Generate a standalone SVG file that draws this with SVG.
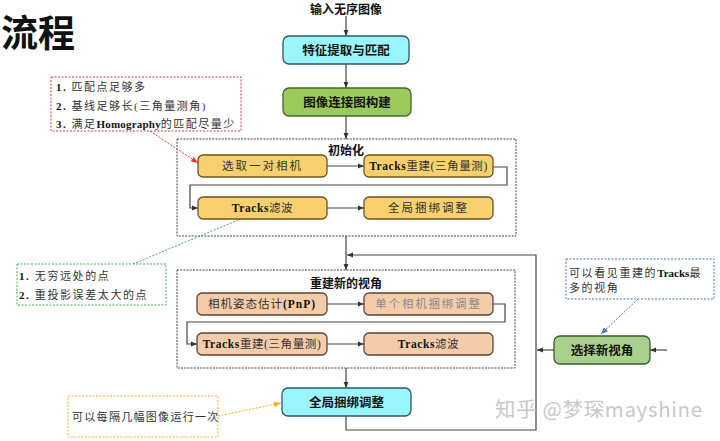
<svg xmlns="http://www.w3.org/2000/svg" width="720" height="441" viewBox="0 0 720 441">
<defs>
<style>
.hei{font-family:"Noto Sans CJK SC","Liberation Sans",sans-serif;font-weight:bold;fill:#111;}
.song{font-family:"Liberation Serif","Noto Sans CJK SC",serif;fill:#333;}
.b{font-weight:bold;fill:#111;}
.cn{fill:none;stroke:#444;stroke-width:1.2;}
.cont{fill:none;stroke:#444;stroke-width:1;stroke-dasharray:2 1.2;}
.cyan{fill:#9BF5FD;stroke:#2C5866;stroke-width:1.3;}
.green{fill:#9CC95C;stroke:#46652A;stroke-width:1.3;}
.gold{fill:#F8D16E;stroke:#6E5220;stroke-width:1.3;}
.peach{fill:#F5CCAA;stroke:#5E4434;stroke-width:1.3;}
.sel{fill:#A9D08E;stroke:#3C5A2C;stroke-width:1.3;}
</style>
<marker id="ar" viewBox="0 0 10 10" refX="10" refY="5" markerWidth="6" markerHeight="6" orient="auto" markerUnits="userSpaceOnUse"><path d="M0,1 L10,5 L0,9 z" fill="#333"/></marker>
<marker id="arR" viewBox="0 0 10 10" refX="10" refY="5" markerWidth="7" markerHeight="7" orient="auto" markerUnits="userSpaceOnUse"><path d="M0,1 L10,5 L0,9 z" fill="#E03A3A"/></marker>
<marker id="arG" viewBox="0 0 10 10" refX="10" refY="5" markerWidth="7" markerHeight="7" orient="auto" markerUnits="userSpaceOnUse"><path d="M0,1 L10,5 L0,9 z" fill="#3DAF5A"/></marker>
<marker id="arB" viewBox="0 0 10 10" refX="10" refY="5" markerWidth="7" markerHeight="7" orient="auto" markerUnits="userSpaceOnUse"><path d="M0,1 L10,5 L0,9 z" fill="#3A78C0"/></marker>
<marker id="arY" viewBox="0 0 10 10" refX="10" refY="5" markerWidth="7" markerHeight="7" orient="auto" markerUnits="userSpaceOnUse"><path d="M0,1 L10,5 L0,9 z" fill="#F0B020"/></marker>
</defs>
<rect width="720" height="441" fill="#fff"/>

<text x="1" y="47" font-family="Noto Sans CJK SC, sans-serif" font-weight="bold" font-size="37" fill="#111">流程</text>
<text x="346" y="14" class="hei" font-size="12" text-anchor="middle" font-weight="normal">输入无序图像</text>

<g id="containers">
<rect id="init" x="177" y="139" width="339" height="97" class="cont"/>
<text x="346" y="155" class="hei" font-size="12" text-anchor="middle">初始化</text>
<rect id="rebuild" x="177" y="270" width="338" height="98" class="cont"/>
<text x="346" y="288" class="hei" font-size="12" text-anchor="middle">重建新的视角</text>
</g>

<g id="connectors">
<line x1="346" y1="16" x2="346" y2="36" class="cn" marker-end="url(#ar)"/>
<line x1="346" y1="64" x2="346" y2="88" class="cn" marker-end="url(#ar)"/>
<line x1="346" y1="116" x2="346" y2="139" class="cn" marker-end="url(#ar)"/>
<line x1="327" y1="166" x2="364" y2="166" class="cn" marker-end="url(#ar)"/>
<polyline points="493,167 507,167 507,185 190,185 190,208 198,208" class="cn" marker-end="url(#ar)"/>
<line x1="327" y1="208" x2="364" y2="208" class="cn" marker-end="url(#ar)"/>
<line x1="346" y1="236" x2="346" y2="270" class="cn" marker-end="url(#ar)"/>
<polyline points="346,416 346,430 536,430 536,255 347,255" class="cn" marker-end="url(#ar)"/>
<line x1="327" y1="304" x2="364" y2="304" class="cn" marker-end="url(#ar)"/>
<polyline points="493,304 505,304 505,322 187,322 187,344 197,344" class="cn" marker-end="url(#ar)"/>
<line x1="327" y1="344" x2="364" y2="344" class="cn" marker-end="url(#ar)"/>
<line x1="346" y1="368" x2="346" y2="388" class="cn" marker-end="url(#ar)"/>
<line x1="554" y1="350" x2="537" y2="350" class="cn" marker-end="url(#ar)"/>
<line x1="667" y1="350" x2="650" y2="350" class="cn" marker-end="url(#ar)"/>
<line x1="150" y1="131" x2="198" y2="163" stroke="#E03A3A" stroke-width="1" stroke-dasharray="2 1.5" marker-end="url(#arR)"/>
<line x1="133" y1="264" x2="262" y2="210" stroke="#3DAF5A" stroke-width="1" stroke-dasharray="2 1.5" marker-end="url(#arG)"/>
<line x1="638" y1="299" x2="601" y2="334" stroke="#3A78C0" stroke-width="1" stroke-dasharray="2 1.5" marker-end="url(#arB)"/>
<line x1="218" y1="416" x2="281" y2="403" stroke="#F0B020" stroke-width="1" stroke-dasharray="2 1.5" marker-end="url(#arY)"/>
</g>

<g id="n-feature"><rect x="283" y="36" width="126" height="28" rx="6" class="cyan"/><text x="346" y="55" class="hei" font-size="12.5" text-anchor="middle">特征提取与匹配</text></g>
<g id="n-graph"><rect x="283" y="88" width="128" height="28" rx="6" class="green"/><text x="347" y="107" class="hei" font-size="12.5" text-anchor="middle">图像连接图构建</text></g>

<g id="n-pair"><rect x="198" y="155" width="129" height="22" rx="5" class="gold"/><text x="262.5" y="170" class="song" font-size="11.5" letter-spacing="2" text-anchor="middle">选取一对相机</text></g>
<g id="n-tri1"><rect x="364" y="155" width="129" height="22" rx="5" class="gold"/><text x="428.5" y="170" class="song" font-size="11.5" letter-spacing="0.6" text-anchor="middle"><tspan class="b">Tracks</tspan>重建(三角量测)</text></g>
<g id="n-filter1"><rect x="198" y="197" width="129" height="22" rx="5" class="gold"/><text x="262.5" y="212" class="song" font-size="11.5" letter-spacing="0.6" text-anchor="middle"><tspan class="b">Tracks</tspan>滤波</text></g>
<g id="n-ba1"><rect x="364" y="197" width="129" height="22" rx="5" class="gold"/><text x="428.5" y="212" class="song" font-size="11.5" letter-spacing="2" text-anchor="middle">全局捆绑调整</text></g>

<g id="n-pnp"><rect x="197" y="293" width="130" height="22" rx="5" class="peach"/><text x="262" y="308" class="song" font-size="11.5" letter-spacing="1" text-anchor="middle">相机姿态估计<tspan class="b">(PnP)</tspan></text></g>
<g id="n-single"><rect x="364" y="293" width="129" height="22" rx="5" class="peach"/><text x="428.5" y="308" class="song" font-size="11.5" letter-spacing="1.8" text-anchor="middle" style="fill:#8a8a8a">单个相机捆绑调整</text></g>
<g id="n-tri2"><rect x="197" y="333" width="130" height="22" rx="5" class="peach"/><text x="262" y="348" class="song" font-size="11.5" letter-spacing="0.6" text-anchor="middle"><tspan class="b">Tracks</tspan>重建(三角量测)</text></g>
<g id="n-filter2"><rect x="364" y="333" width="129" height="22" rx="5" class="peach"/><text x="428.5" y="348" class="song" font-size="11.5" letter-spacing="0.6" text-anchor="middle"><tspan class="b">Tracks</tspan>滤波</text></g>

<g id="n-ba2"><rect x="282" y="388" width="129" height="28" rx="6" class="cyan"/><text x="346.5" y="407" class="hei" font-size="12.5" text-anchor="middle">全局捆绑调整</text></g>
<g id="n-select"><rect x="554" y="336" width="96" height="28" rx="6" class="sel"/><text x="602" y="355" class="hei" font-size="12.5" text-anchor="middle">选择新视角</text></g>

<g id="c-red">
<rect x="51" y="77" width="190" height="54" fill="none" stroke="#E03A3A" stroke-width="1" stroke-dasharray="2 1.5"/>
<text class="song" font-size="11" letter-spacing="1.5"><tspan x="56" y="91"><tspan class="b">1.</tspan> 匹配点足够多</tspan><tspan x="56" y="110"><tspan class="b">2.</tspan> 基线足够长(三角量测角)</tspan><tspan x="56" y="128"><tspan class="b">3.</tspan> 满足<tspan class="b" letter-spacing="0.2">Homography</tspan>的匹配尽量少</tspan></text>
</g>
<g id="c-green">
<rect x="17" y="264" width="149" height="41" fill="none" stroke="#3DAF5A" stroke-width="1" stroke-dasharray="2 1.5"/>
<text class="song" font-size="11" letter-spacing="1.6"><tspan x="19" y="280"><tspan class="b">1.</tspan> 无穷远处的点</tspan><tspan x="19" y="299"><tspan class="b">2.</tspan> 重投影误差太大的点</tspan></text>
</g>
<g id="c-blue">
<rect x="566" y="259" width="148" height="40" fill="none" stroke="#3A78C0" stroke-width="1" stroke-dasharray="2 1.5"/>
<text class="song" font-size="11" letter-spacing="1.6"><tspan x="569" y="277">可以看见重建的<tspan class="b" letter-spacing="0">Tracks</tspan>最</tspan><tspan x="569" y="292">多的视角</tspan></text>
</g>
<g id="c-yellow">
<rect x="68" y="396" width="150" height="41" fill="none" stroke="#F0B020" stroke-width="1" stroke-dasharray="2 1.5"/>
<text x="72" y="421" class="song" font-size="11" letter-spacing="1.3">可以每隔几幅图像运行一次</text>
</g>

<text x="495" y="417" font-family="Noto Sans CJK SC, sans-serif" font-size="20.5" fill="#c8c8c8" textLength="207">知乎 @梦琛mayshine</text>
</svg>
